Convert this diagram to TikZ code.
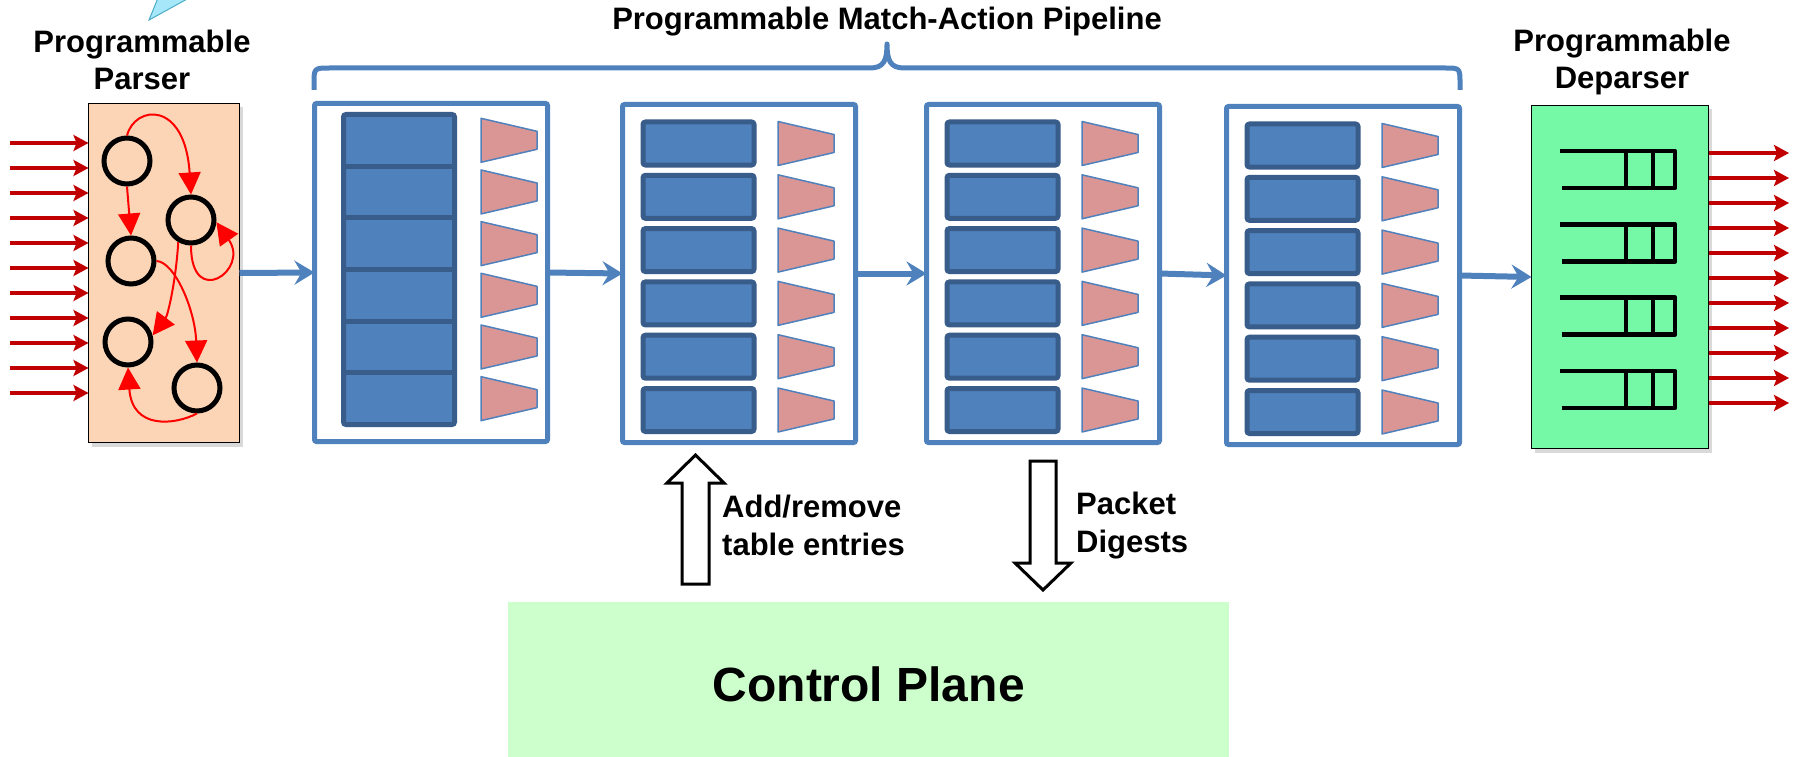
\documentclass[tikz,border=0pt]{standalone}
\usepackage{fontspec}
\setmainfont{Liberation Sans}
\usetikzlibrary{arrows.meta,shadows}

\definecolor{pipeblue}{RGB}{79,129,189}
\definecolor{tbldark}{RGB}{56,93,138}
\definecolor{trapfill}{RGB}{217,150,148}
\definecolor{parserfill}{RGB}{251,213,181}
\definecolor{deparserfill}{RGB}{117,249,166}
\definecolor{cpfill}{RGB}{204,255,204}
\definecolor{pktred}{RGB}{192,0,0}
\definecolor{calloutfill}{RGB}{166,232,250}
\definecolor{calloutedge}{RGB}{75,172,198}

\begin{document}
\begin{tikzpicture}[x=1pt,y=-1pt,
    stage/.style={draw=pipeblue,line width=5pt,fill=white,rounded corners=2pt,
      minimum width=233pt,minimum height=338pt,anchor=north west,inner sep=0pt,outer sep=0pt},
    tbl/.style={draw=tbldark,fill=pipeblue,line width=5pt,rounded corners=2.5pt},
    trapz/.style={draw=pipeblue,fill=trapfill,line width=1.5pt,line join=round},
    flow/.style={pipeblue,line width=6pt,-{Stealth[length=20pt,width=24pt,inset=7pt]}},
    pkt/.style={pktred,line width=4pt,-{Stealth[length=15pt,width=16pt,inset=3pt]}},
    fsmstate/.style={circle,draw,line width=5pt,minimum size=46pt,inner sep=0pt},
    fsm/.style={red,line width=2pt,-{Triangle[length=22pt,width=22pt]}},
    qline/.style={line width=4.5pt,line join=round},
    endbox/.style={draw=black,line width=1.5pt,anchor=north west,inner sep=0pt,outer sep=0pt,
      drop shadow={opacity=0.3,shadow xshift=3pt,shadow yshift=-4pt}},
    headline/.style={font=\fontsize{31}{37}\selectfont\bfseries,align=center,inner sep=0pt},
    sidetxt/.style={font=\fontsize{31}{38}\selectfont\bfseries,align=left,inner sep=0pt,anchor=west},
    blockarrow/.style={draw,fill=white,line width=3pt},
    pics/trap/.style={code={\draw[trapz] (0,-22) -- (56,-9) -- (56,9) -- (0,22) -- cycle;}},
    pics/queue/.style={code={\draw[qline] (0,0) -- (115,0) -- (115,37) -- (2,37);
      \draw[qline] (66,0) -- (66,37) (93,0) -- (93,37);}}]

  \useasboundingbox (0,0) rectangle (1798,757);

  % tail of a callout, cut by the top edge
  \filldraw[fill=calloutfill,draw=calloutedge,line width=1pt] (158,-2) -- (149,20) -- (189,-2);

  % parser
  \node[endbox,fill=parserfill,minimum width=151pt,minimum height=339pt] (parser) at (88.5,103.5) {};
  \node[headline] (parserlbl) at (142,59.5) {Programmable\\Parser};

  \foreach \k in {0,...,10}{
    \pgfmathsetmacro\yy{143+25*\k}
    \draw[pkt] (10,\yy) -- (parser.west |- 0,\yy);
  }

  \node[fsmstate] (c1) at (127,161) {};
  \node[fsmstate] (c2) at (191,220) {};
  \node[fsmstate] (c3) at (131,261) {};
  \node[fsmstate] (c4) at (128,342) {};
  \node[fsmstate] (c5) at (197,388) {};

  \draw[fsm] (c1.north) .. controls (135,105) and (185,100) .. (c2.north);
  \draw[fsm] (c1.south) -- (c3.north);
  \draw[fsm] (c2.south) .. controls (191,310) and (250,270) .. (c2.-5);
  \draw[fsm] (c2.240) .. controls (176,280) and (168,315) .. (c4.15);
  \draw[fsm] (c3.east) .. controls (175,262) and (195,310) .. (c5.north);
  \draw[fsm] (c5.south) .. controls (175,425) and (132,430) .. (c4.south);

  % match-action stages
  \node[stage] (s1) at (314.5,103.5) {};
  \draw[tbl] (343.5,114.5) rectangle (454.5,424.5);
  \foreach \k in {1,...,5}
    \draw[tbldark,line width=5pt] (343.5,{114.5+51.67*\k}) -- (454.5,{114.5+51.67*\k});
  \foreach \k in {0,...,5}
    \pic at (481,{140.3+51.67*\k}) {trap};

  \foreach \n/\sx/\sy in {2/620/102,3/924/102,4/1224/104}{
    \node[stage] (s\n) at (\sx+2.5,\sy+2.5) {};
    \foreach \k in {0,...,5}{
      \draw[tbl] ({\sx+23},{\sy+20+53.3*\k}) rectangle ++(111,43);
      \pic at ({\sx+158},{\sy+41.5+53.3*\k}) {trap};
    }
  }

  % deparser
  \node[endbox,fill=deparserfill,minimum width=177pt,minimum height=343pt] (deparser) at (1531.5,105.5) {};
  \node[headline] (deparserlbl) at (1622,62) {Programmable\\Deparser};
  \foreach \k in {0,...,3}
    \pic at (1560,{151+73.3*\k}) {queue};
  \foreach \k in {0,...,10}{
    \pgfmathsetmacro\yy{153+25*\k}
    \draw[pkt] (deparser.east |- 0,\yy) -- (1789,\yy);
  }

  \draw[flow] (parser.east) -- (s1.west);
  \draw[flow] (s1.east) -- (s2.west);
  \draw[flow] (s2.east) -- (s3.west);
  \draw[flow] (s3.east) -- (s4.west);
  \draw[flow] (s4.east) -- (deparser.west);

  % brace over the pipeline
  \draw[pipeblue,line width=5pt,line join=round] (314,90) -- (314,84) .. controls (314,68) .. (330,68)
    -- (870,68) .. controls (884,68) and (887,60) .. (887,44)
    .. controls (887,60) and (890,68) .. (904,68) -- (1445,68)
    .. controls (1460,68) .. (1460,84) -- (1460,90);
  \node[headline,anchor=base] (pipetitle) at (887,30) {Programmable Match-Action Pipeline};

  % control plane
  \node[fill=cpfill,minimum width=721pt,minimum height=157pt,anchor=north west,inner sep=0pt,
    text height=42pt,font=\fontsize{48}{56}\selectfont\bfseries] (cplane) at (508,602) {Control Plane};

  \draw[blockarrow] (682,584) -- (682,483) -- (667,483) -- (695.5,455) -- (724,483) -- (709,483) -- (709,584) -- cycle;
  \draw[blockarrow] (1030,461) -- (1056,461) -- (1056,563) -- (1071,563) -- (1043,590) -- (1015,563) -- (1030,563) -- cycle;
  \node[sidetxt] (addlbl) at (722,525) {Add/remove\\table entries};
  \node[sidetxt] (digestlbl) at (1076,525.5) {Packet\\Digests};
\end{tikzpicture}
\end{document}
